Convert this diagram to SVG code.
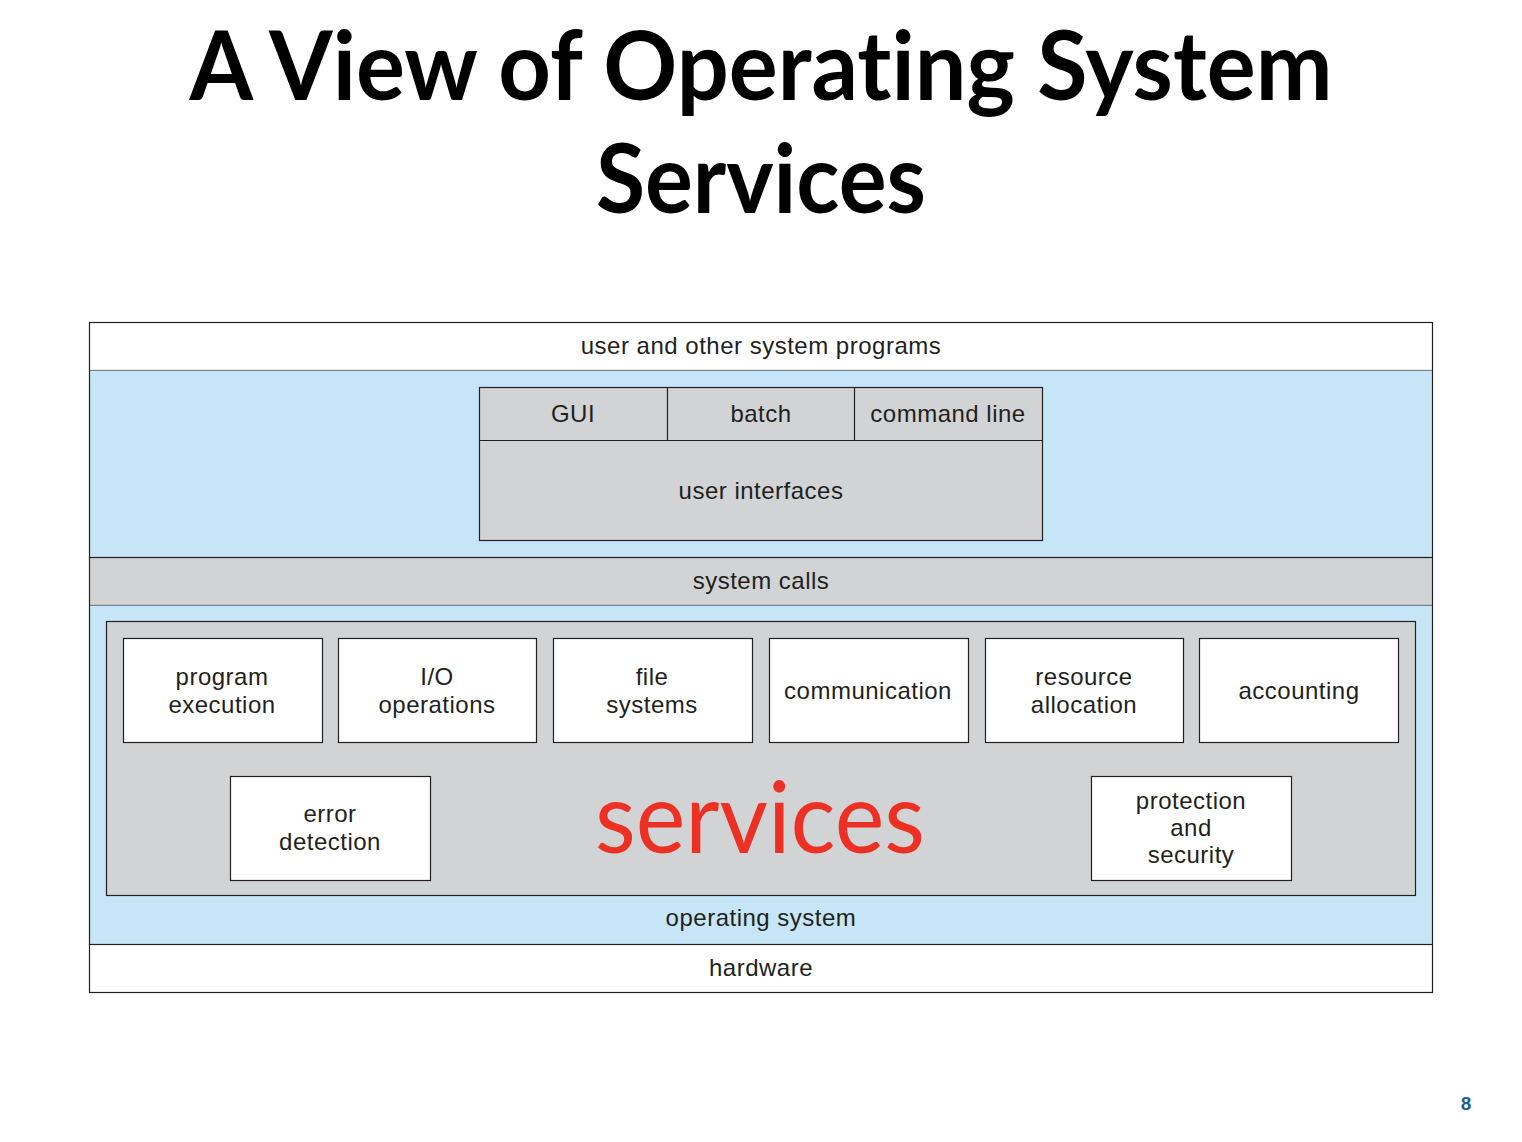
<svg xmlns="http://www.w3.org/2000/svg" width="1522" height="1142" viewBox="0 0 1522 1142">
<style>
.t{font-family:"Liberation Sans",Arial,sans-serif;font-size:24px;letter-spacing:0.5px;fill:#231f20;text-anchor:middle}
.ln{stroke:#231f20;stroke-width:1.2}
.wb{fill:#ffffff;stroke:#231f20;stroke-width:1.2}
.gb{fill:#d1d3d4;stroke:#231f20;stroke-width:1.2}
.bl{fill:#c6e6f8}
.h{font-family:Lato,"Open Sans",sans-serif;font-weight:bold;font-size:96px;fill:#000;text-anchor:middle;font-variant-ligatures:none;font-feature-settings:"liga" 0,"dlig" 0,"clig" 0}
</style>
<rect width="1522" height="1142" fill="#ffffff"/>
<g id="title">
<text x="761" y="100" class="h" textLength="1143" lengthAdjust="spacingAndGlyphs">A View of Operating System</text>
<text x="761" y="213" class="h" textLength="330" lengthAdjust="spacingAndGlyphs">Services</text>
</g>
<g id="user-programs">
<rect x="89.5" y="322.5" width="1343" height="48" class="wb"/>
<text x="761" y="354" class="t">user and other system programs</text>
</g>
<g id="ui-layer">
<rect x="89.5" y="370.5" width="1343" height="187" class="bl"/>
</g>
<g id="user-interfaces">
<rect x="479.5" y="387.5" width="563" height="153" class="gb"/>
<line x1="479.5" y1="440.5" x2="1042.5" y2="440.5" class="ln"/>
<line x1="667.5" y1="387.5" x2="667.5" y2="440.5" class="ln"/>
<line x1="854.5" y1="387.5" x2="854.5" y2="440.5" class="ln"/>
<text x="573" y="422" class="t">GUI</text>
<text x="761" y="422" class="t">batch</text>
<text x="948" y="422" class="t">command line</text>
<text x="761" y="499" class="t">user interfaces</text>
</g>
<g id="system-calls">
<rect x="89.5" y="557.5" width="1343" height="48" class="gb"/>
<text x="761" y="589" class="t">system calls</text>
</g>
<g id="operating-system">
<rect x="89.5" y="605.5" width="1343" height="339" class="bl"/>
<line x1="89.5" y1="605.5" x2="89.5" y2="944.5" class="ln"/>
<line x1="1432.5" y1="605.5" x2="1432.5" y2="944.5" class="ln"/>
<line x1="89.5" y1="370.5" x2="89.5" y2="557.5" class="ln"/>
<line x1="1432.5" y1="370.5" x2="1432.5" y2="557.5" class="ln"/>
<text x="761" y="926" class="t">operating system</text>
</g>
<g id="services">
<rect x="106.5" y="621.5" width="1309" height="274" class="gb"/>
<text x="760" y="853" font-family="Lato,'Open Sans',sans-serif" font-size="98" fill="#ed3024" text-anchor="middle" textLength="330" lengthAdjust="spacingAndGlyphs">services</text>
</g>
<g id="program-execution">
<rect x="123.5" y="638.5" width="199" height="104" class="wb"/>
<text x="222" y="685" class="t">program</text>
<text x="222" y="713" class="t">execution</text>
</g>
<g id="io-operations">
<rect x="338.5" y="638.5" width="198" height="104" class="wb"/>
<text x="437" y="685" class="t">I/O</text>
<text x="437" y="713" class="t">operations</text>
</g>
<g id="file-systems">
<rect x="553.5" y="638.5" width="199" height="104" class="wb"/>
<text x="652" y="685" class="t">file</text>
<text x="652" y="713" class="t">systems</text>
</g>
<g id="communication">
<rect x="769.5" y="638.5" width="199" height="104" class="wb"/>
<text x="868" y="699" class="t">communication</text>
</g>
<g id="resource-allocation">
<rect x="985.5" y="638.5" width="198" height="104" class="wb"/>
<text x="1084" y="685" class="t">resource</text>
<text x="1084" y="713" class="t">allocation</text>
</g>
<g id="accounting">
<rect x="1199.5" y="638.5" width="199" height="104" class="wb"/>
<text x="1299" y="699" class="t">accounting</text>
</g>
<g id="error-detection">
<rect x="230.5" y="776.5" width="200" height="104" class="wb"/>
<text x="330" y="822" class="t">error</text>
<text x="330" y="850" class="t">detection</text>
</g>
<g id="protection-security">
<rect x="1091.5" y="776.5" width="200" height="104" class="wb"/>
<text x="1191" y="809" class="t">protection</text>
<text x="1191" y="836" class="t">and</text>
<text x="1191" y="863" class="t">security</text>
</g>
<g id="hardware">
<rect x="89.5" y="944.5" width="1343" height="48" class="wb"/>
<text x="761" y="976" class="t">hardware</text>
</g>
<g id="connectors"></g>
<g id="page-number">
<text x="1466" y="1110" font-family="'Liberation Sans',Arial,sans-serif" font-weight="bold" font-size="19" fill="#1f5b8e" text-anchor="middle">8</text>
</g>
</svg>
